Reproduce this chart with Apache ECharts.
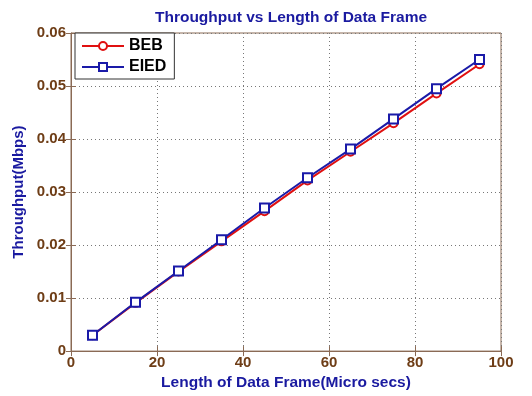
<!DOCTYPE html>
<html>
<head>
<meta charset="utf-8">
<script src="https://cdn.jsdelivr.net/npm/echarts@6/dist/echarts.min.js"></script>
<style>
  html, body { margin: 0; padding: 0; background: #fff; }
  #chart { width: 532px; height: 396px; }
</style>
</head>
<body>
<div id="chart"></div>
<script>
// Frame lengths (micro secs) and throughput (Mbps) per scheme
var frameLengths = [5, 15, 25, 35, 45, 55, 65, 75, 85, 95];
var beb  = [0.0030, 0.0091, 0.0150, 0.0207, 0.0264, 0.0322, 0.0376, 0.0430, 0.0486, 0.0541];
var eied = [0.0030, 0.0092, 0.0151, 0.0210, 0.0270, 0.0327, 0.0381, 0.0438, 0.0495, 0.0550];

function pairs(xs, ys) {
  return xs.map(function (x, i) { return [x, ys[i]]; });
}

var FONT = '"Liberation Sans", Arial, sans-serif';
var AXIS_COLOR = '#8a6a55';
var TICK_TEXT = '#6e3d16';
var BLUE_TEXT = '#1a1aa0';

var chart = echarts.init(document.getElementById('chart'));
chart.setOption({
  animation: false,
  backgroundColor: '#ffffff',
  title: {
    text: 'Throughput vs Length of Data Frame',
    left: 286, top: 5, textAlign: 'center',
    textStyle: { color: BLUE_TEXT, fontFamily: FONT, fontWeight: 'bold', fontSize: 15.5 }
  },
  legend: {
    orient: 'vertical',
    left: 75, top: 33,
    padding: [5, 8, 4, 6],
    itemGap: 5,
    itemWidth: 42, itemHeight: 10,
    backgroundColor: '#fff',
    borderColor: '#333', borderWidth: 1,
    textStyle: { color: '#000', fontFamily: FONT, fontWeight: 'bold', fontSize: 16 },
    data: ['BEB', 'EIED']
  },
  grid: {
    left: 71, right: 31, top: 33, bottom: 42,
    show: true, borderColor: AXIS_COLOR, borderWidth: 1
  },
  xAxis: [{
    type: 'value', min: 0, max: 100, interval: 20,
    name: 'Length of Data Frame(Micro secs)',
    nameLocation: 'middle', nameGap: 23,
    nameTextStyle: { color: BLUE_TEXT, fontFamily: FONT, fontWeight: 'bold', fontSize: 15.5 },
    axisLine: { show: true, lineStyle: { color: AXIS_COLOR } },
    axisTick: { show: true, inside: true, length: 5, lineStyle: { color: AXIS_COLOR } },
    axisLabel: { color: TICK_TEXT, fontFamily: FONT, fontWeight: 'bold', fontSize: 15, margin: 4 },
    splitLine: { show: true, lineStyle: { color: '#777', type: [1, 3], width: 1 } }
  }, {
    type: 'value', min: 0, max: 100, interval: 20, position: 'top',
    axisLine: { show: false },
    axisTick: { show: true, inside: true, length: 5, lineStyle: { color: AXIS_COLOR } },
    axisLabel: { show: false }, splitLine: { show: false }
  }],
  yAxis: [{
    type: 'value', min: 0, max: 0.06, interval: 0.01,
    name: 'Throughput(Mbps)',
    nameLocation: 'middle', nameGap: 39,
    nameTextStyle: { color: BLUE_TEXT, fontFamily: FONT, fontWeight: 'bold', fontSize: 15 },
    axisLine: { show: true, lineStyle: { color: AXIS_COLOR } },
    axisTick: { show: true, inside: true, length: 5, lineStyle: { color: AXIS_COLOR } },
    axisLabel: {
      color: TICK_TEXT, fontFamily: FONT, fontWeight: 'bold', fontSize: 15, margin: 5,
      formatter: function (v) { return v === 0 ? '0' : v.toFixed(2); }
    },
    splitLine: { show: true, lineStyle: { color: '#777', type: [1, 3], width: 1 } }
  }, {
    type: 'value', min: 0, max: 0.06, interval: 0.01, position: 'right',
    axisLine: { show: false },
    axisTick: { show: true, inside: true, length: 5, lineStyle: { color: AXIS_COLOR } },
    axisLabel: { show: false }, splitLine: { show: false }
  }],
  series: [{
    name: 'BEB', type: 'line',
    data: pairs(frameLengths, beb),
    symbol: 'emptyCircle', symbolSize: 8,
    lineStyle: { color: '#e01010', width: 2 },
    itemStyle: { color: '#e01010', borderWidth: 1.5 },
    z: 2
  }, {
    name: 'EIED', type: 'line',
    data: pairs(frameLengths, eied),
    symbol: 'emptyRect', symbolSize: 9,
    lineStyle: { color: '#1a1aa8', width: 2 },
    itemStyle: { color: '#1a1aa8', borderWidth: 1.5 },
    z: 3
  }]
});
</script>
</body>
</html>
